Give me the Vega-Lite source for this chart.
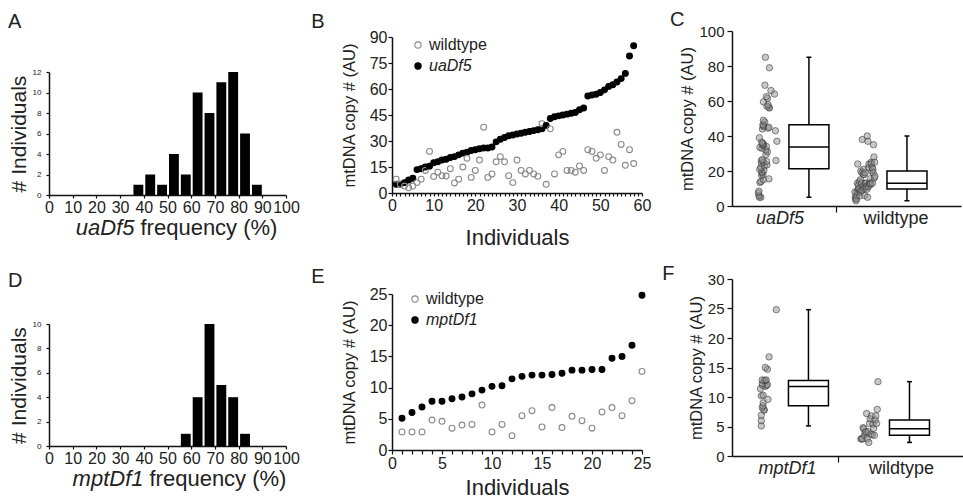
{
  "$schema": "https://vega.github.io/schema/vega-lite/v6.json",
  "padding": {"left": 8, "top": 10, "right": 0, "bottom": 0},
  "datasets": {
    "histA": [
      {"start": 35, "end": 40, "count": 1}, {"start": 40, "end": 45, "count": 2}, {"start": 45, "end": 50, "count": 1},
      {"start": 50, "end": 55, "count": 4}, {"start": 55, "end": 60, "count": 2}, {"start": 60, "end": 65, "count": 10},
      {"start": 65, "end": 70, "count": 8}, {"start": 70, "end": 75, "count": 11}, {"start": 75, "end": 80, "count": 12},
      {"start": 80, "end": 85, "count": 6}, {"start": 85, "end": 90, "count": 1}
    ],
    "histD": [
      {"start": 55, "end": 60, "count": 1}, {"start": 60, "end": 65, "count": 4}, {"start": 65, "end": 70, "count": 10},
      {"start": 70, "end": 75, "count": 5}, {"start": 75, "end": 80, "count": 4}, {"start": 80, "end": 85, "count": 1}
    ],
    "top": [
      {"ind": 1, "uaDf5": 5, "wildtype": 8}, {"ind": 2, "uaDf5": 5, "wildtype": 5}, {"ind": 3, "uaDf5": 6, "wildtype": 4},
      {"ind": 4, "uaDf5": 7.5, "wildtype": 3}, {"ind": 5, "uaDf5": 8.5, "wildtype": 4}, {"ind": 6, "uaDf5": 13.5, "wildtype": 6},
      {"ind": 7, "uaDf5": 14, "wildtype": 8}, {"ind": 8, "uaDf5": 15, "wildtype": 13}, {"ind": 9, "uaDf5": 15.5, "wildtype": 24},
      {"ind": 10, "uaDf5": 17.5, "wildtype": 9.5}, {"ind": 11, "uaDf5": 18, "wildtype": 12}, {"ind": 12, "uaDf5": 19, "wildtype": 10},
      {"ind": 13, "uaDf5": 19.5, "wildtype": 9.8}, {"ind": 14, "uaDf5": 20.5, "wildtype": 14}, {"ind": 15, "uaDf5": 21, "wildtype": 5.8},
      {"ind": 16, "uaDf5": 22, "wildtype": 8}, {"ind": 17, "uaDf5": 23, "wildtype": 15}, {"ind": 18, "uaDf5": 23.5, "wildtype": 20},
      {"ind": 19, "uaDf5": 24.5, "wildtype": 9}, {"ind": 20, "uaDf5": 25, "wildtype": 13}, {"ind": 21, "uaDf5": 25.5, "wildtype": 19},
      {"ind": 22, "uaDf5": 26, "wildtype": 38}, {"ind": 23, "uaDf5": 26, "wildtype": 9}, {"ind": 24, "uaDf5": 26.5, "wildtype": 11},
      {"ind": 25, "uaDf5": 29.5, "wildtype": 18}, {"ind": 26, "uaDf5": 31, "wildtype": 21}, {"ind": 27, "uaDf5": 32, "wildtype": 18},
      {"ind": 28, "uaDf5": 33, "wildtype": 10}, {"ind": 29, "uaDf5": 33.5, "wildtype": 6}, {"ind": 30, "uaDf5": 34, "wildtype": 19},
      {"ind": 31, "uaDf5": 34.5, "wildtype": 13}, {"ind": 32, "uaDf5": 35, "wildtype": 11}, {"ind": 33, "uaDf5": 35.5, "wildtype": 13},
      {"ind": 34, "uaDf5": 36, "wildtype": 11}, {"ind": 35, "uaDf5": 36.5, "wildtype": 9.6}, {"ind": 36, "uaDf5": 37, "wildtype": 40},
      {"ind": 37, "uaDf5": 39, "wildtype": 5}, {"ind": 38, "uaDf5": 43, "wildtype": 37}, {"ind": 39, "uaDf5": 44, "wildtype": 11},
      {"ind": 40, "uaDf5": 44.5, "wildtype": 22}, {"ind": 41, "uaDf5": 45, "wildtype": 24}, {"ind": 42, "uaDf5": 45.5, "wildtype": 13},
      {"ind": 43, "uaDf5": 46, "wildtype": 13}, {"ind": 44, "uaDf5": 46.5, "wildtype": 12}, {"ind": 45, "uaDf5": 48, "wildtype": 15.6},
      {"ind": 46, "uaDf5": 49, "wildtype": 13}, {"ind": 47, "uaDf5": 56, "wildtype": 25}, {"ind": 48, "uaDf5": 56.5, "wildtype": 24},
      {"ind": 49, "uaDf5": 57, "wildtype": 20}, {"ind": 50, "uaDf5": 58, "wildtype": 22}, {"ind": 51, "uaDf5": 59.5, "wildtype": 13},
      {"ind": 52, "uaDf5": 61.5, "wildtype": 21}, {"ind": 53, "uaDf5": 62.5, "wildtype": 19}, {"ind": 54, "uaDf5": 64, "wildtype": 35},
      {"ind": 55, "uaDf5": 66, "wildtype": 28}, {"ind": 56, "uaDf5": 69, "wildtype": 16}, {"ind": 57, "uaDf5": 79, "wildtype": 25},
      {"ind": 58, "uaDf5": 85, "wildtype": 17}
    ],
    "bot": [
      {"ind": 1, "mptDf1": 5.1, "wildtype": 2.9}, {"ind": 2, "mptDf1": 6, "wildtype": 2.9}, {"ind": 3, "mptDf1": 6.9, "wildtype": 2.9},
      {"ind": 4, "mptDf1": 7.8, "wildtype": 4.8}, {"ind": 5, "mptDf1": 7.8, "wildtype": 4.6}, {"ind": 6, "mptDf1": 8.2, "wildtype": 3.5},
      {"ind": 7, "mptDf1": 8.5, "wildtype": 4.0}, {"ind": 8, "mptDf1": 9.0, "wildtype": 4.1}, {"ind": 9, "mptDf1": 9.6, "wildtype": 7.2},
      {"ind": 10, "mptDf1": 10.2, "wildtype": 2.9}, {"ind": 11, "mptDf1": 10.3, "wildtype": 4.1}, {"ind": 12, "mptDf1": 11.4, "wildtype": 2.3},
      {"ind": 13, "mptDf1": 11.8, "wildtype": 5.5}, {"ind": 14, "mptDf1": 12.0, "wildtype": 6.3}, {"ind": 15, "mptDf1": 12.0, "wildtype": 3.7},
      {"ind": 16, "mptDf1": 12.1, "wildtype": 6.8}, {"ind": 17, "mptDf1": 12.3, "wildtype": 3.6}, {"ind": 18, "mptDf1": 12.8, "wildtype": 5.4},
      {"ind": 19, "mptDf1": 12.8, "wildtype": 4.7}, {"ind": 20, "mptDf1": 12.9, "wildtype": 3.5}, {"ind": 21, "mptDf1": 12.9, "wildtype": 6.1},
      {"ind": 22, "mptDf1": 14.7, "wildtype": 6.8}, {"ind": 23, "mptDf1": 15.0, "wildtype": 5.5}, {"ind": 24, "mptDf1": 16.8, "wildtype": 7.9},
      {"ind": 25, "mptDf1": 24.8, "wildtype": 12.6}
    ]
  },
  "hconcat": [
    {
      "vconcat": [
        {
          "title": {"text": "A", "offset": -10},
          "width": 237, "height": 173,
          "data": {"name": "histA"},
          "layer": [
            {
              "mark": {"type": "bar", "color": "black", "binSpacing": 2},
              "encoding": {
                "x": {"field": "start", "type": "quantitative", "bin": {"binned": true, "step": 5}, "scale": {"domain": [0, 100]},
                      "axis": {"values": [0, 10, 20, 30, 40, 50, 60, 70, 80, 90, 100], "title": "frequency (%)", "labelFontSize": 16, "titleFontSize": 22, "tickSize": 3, "labelPadding": 1,
                               "titleX": 91, "titleY": 39, "titleAlign": "left", "titleBaseline": "alphabetic"}},
                "x2": {"field": "end"},
                "y": {"field": "count", "type": "quantitative", "scale": {"domain": [0, 12], "range": [173, 50]},
                      "axis": {"values": [0, 2, 4, 6, 8, 10, 12], "title": "# Individuals", "labelFontSize": 8, "titleFontSize": 21, "tickSize": 3, "labelPadding": 5, "titlePadding": 3}}
              }
            },
            {
              "mark": {"type": "bar", "color": "black", "opacity": 0, "binSpacing": 2},
              "encoding": {
                "x": {"field": "start", "type": "quantitative", "bin": {"binned": true, "step": 5}, "scale": {"domain": [0, 100]},
                      "axis": {"orient": "bottom", "domain": false, "ticks": false, "labels": false, "title": "uaDf5", "titleFontStyle": "italic", "titleFontSize": 22,
                               "titleX": 85, "titleY": 39, "titleAlign": "right", "titleBaseline": "alphabetic"}},
                "x2": {"field": "end"},
                "y": {"field": "count", "type": "quantitative", "scale": {"domain": [0, 12], "range": [173, 50]},
                      "axis": {"values": [0, 2, 4, 6, 8, 10, 12], "title": "# Individuals", "labelFontSize": 8, "titleFontSize": 21, "tickSize": 3, "labelPadding": 5, "titlePadding": 3}}
              }
            }
          ],
          "resolve": {"axis": {"x": "independent"}}
        },
        {
          "title": {"text": "D", "offset": -20},
          "width": 237, "height": 175,
          "data": {"name": "histD"},
          "layer": [
            {
              "mark": {"type": "bar", "color": "black", "binSpacing": 2},
              "encoding": {
                "x": {"field": "start", "type": "quantitative", "bin": {"binned": true, "step": 5}, "scale": {"domain": [0, 100]},
                      "axis": {"values": [0, 10, 20, 30, 40, 50, 60, 70, 80, 90, 100], "title": "frequency (%)", "labelFontSize": 16, "titleFontSize": 22, "tickSize": 3, "labelPadding": 1,
                               "titleX": 100, "titleY": 39, "titleAlign": "left", "titleBaseline": "alphabetic"}},
                "x2": {"field": "end"},
                "y": {"field": "count", "type": "quantitative", "scale": {"domain": [0, 10], "range": [175, 53]},
                      "axis": {"values": [0, 2, 4, 6, 8, 10], "title": "# Individuals", "labelFontSize": 8, "titleFontSize": 21, "tickSize": 3, "labelPadding": 5, "titlePadding": 3}}
              }
            },
            {
              "mark": {"type": "bar", "color": "black", "opacity": 0, "binSpacing": 2},
              "encoding": {
                "x": {"field": "start", "type": "quantitative", "bin": {"binned": true, "step": 5}, "scale": {"domain": [0, 100]},
                      "axis": {"orient": "bottom", "domain": false, "ticks": false, "labels": false, "title": "mptDf1", "titleFontStyle": "italic", "titleFontSize": 22,
                               "titleX": 94, "titleY": 39, "titleAlign": "right", "titleBaseline": "alphabetic"}},
                "x2": {"field": "end"},
                "y": {"field": "count", "type": "quantitative", "scale": {"domain": [0, 10], "range": [175, 53]},
                      "axis": {"values": [0, 2, 4, 6, 8, 10], "title": "# Individuals", "labelFontSize": 8, "titleFontSize": 21, "tickSize": 3, "labelPadding": 5, "titlePadding": 3}}
              }
            }
          ],
          "resolve": {"axis": {"x": "independent"}}
        }
      ],
      "spacing": 33,
      "resolve": {"scale": {"x": "independent", "y": "independent"}}
    },
    {
      "vconcat": [
        {
          "title": {"text": "B", "offset": -10, "dx": -30},
          "width": 250, "height": 171,
          "data": {"name": "top"},
          "transform": [{"fold": ["uaDf5", "wildtype"], "as": ["genotype", "value"]}],
          "mark": {"type": "point", "shape": "circle", "filled": true, "size": 34, "strokeWidth": 1.1, "opacity": 1},
          "encoding": {
            "x": {"field": "ind", "type": "quantitative", "scale": {"domain": [0, 60]},
                  "axis": {"values": [0,1,2,3,4,5,6,7,8,9,10,11,12,13,14,15,16,17,18,19,20,21,22,23,24,25,26,27,28,29,30,31,32,33,34,35,36,37,38,39,40,41,42,43,44,45,46,47,48,49,50,51,52,53,54,55,56,57,58,59,60],
                           "labelExpr": "datum.value % 10 == 0 ? datum.label : ''", "title": "Individuals", "labelFontSize": 16, "titleFontSize": 22, "tickSize": 3, "labelPadding": 1, "titlePadding": 14}},
            "y": {"field": "value", "type": "quantitative", "scale": {"domain": [0, 90], "range": [171, 15]},
                  "axis": {"values": [0, 15, 30, 45, 60, 75, 90], "title": "mtDNA copy # (AU)", "labelFontSize": 16, "titleFontSize": 16.5, "tickSize": 4, "labelPadding": 1, "titlePadding": 12}},
            "fill": {"field": "genotype", "type": "nominal", "scale": {"domain": ["wildtype", "uaDf5"], "range": ["transparent", "black"]},
                     "legend": {"title": null, "orient": "none", "legendX": 18, "legendY": 15, "labelFontSize": 16, "symbolSize": 40, "symbolStrokeWidth": 1.1, "rowPadding": 5, "padding": 0, "labelOffset": 3,
                                "labelFontStyle": {"expr": "datum.value == 'wildtype' ? 'normal' : 'italic'"}}},
            "stroke": {"field": "genotype", "type": "nominal", "scale": {"domain": ["wildtype", "uaDf5"], "range": ["#8a8a8a", "black"]},
                     "legend": {"title": null, "orient": "none", "legendX": 18, "legendY": 15, "labelFontSize": 16, "symbolSize": 40, "symbolStrokeWidth": 1.1, "rowPadding": 5, "padding": 0, "labelOffset": 3,
                                "labelFontStyle": {"expr": "datum.value == 'wildtype' ? 'normal' : 'italic'"}}}
          }
        },
        {
          "title": {"text": "E", "offset": -18, "dx": -30},
          "width": 250, "height": 181,
          "data": {"name": "bot"},
          "transform": [{"fold": ["mptDf1", "wildtype"], "as": ["genotype", "value"]}],
          "mark": {"type": "point", "shape": "circle", "filled": true, "size": 34, "strokeWidth": 1.1, "opacity": 1},
          "encoding": {
            "x": {"field": "ind", "type": "quantitative", "scale": {"domain": [0, 25]},
                  "axis": {"values": [0,1,2,3,4,5,6,7,8,9,10,11,12,13,14,15,16,17,18,19,20,21,22,23,24,25],
                           "labelExpr": "datum.value % 5 == 0 ? datum.label : ''", "title": "Individuals", "labelFontSize": 16, "titleFontSize": 22, "tickSize": 4, "labelPadding": 1, "titlePadding": 6}},
            "y": {"field": "value", "type": "quantitative", "scale": {"domain": [0, 25], "range": [181, 25]},
                  "axis": {"values": [0, 5, 10, 15, 20, 25], "title": "mtDNA copy # (AU)", "labelFontSize": 16, "titleFontSize": 16.5, "tickSize": 4, "labelPadding": 1, "titlePadding": 12}},
            "fill": {"field": "genotype", "type": "nominal", "scale": {"domain": ["wildtype", "mptDf1"], "range": ["transparent", "black"]},
                     "legend": {"title": null, "orient": "none", "legendX": 15, "legendY": 22, "labelFontSize": 16, "symbolSize": 40, "symbolStrokeWidth": 1.1, "rowPadding": 5, "padding": 0, "labelOffset": 3,
                                "labelFontStyle": {"expr": "datum.value == 'wildtype' ? 'normal' : 'italic'"}}},
            "stroke": {"field": "genotype", "type": "nominal", "scale": {"domain": ["wildtype", "mptDf1"], "range": ["#8a8a8a", "black"]},
                     "legend": {"title": null, "orient": "none", "legendX": 15, "legendY": 22, "labelFontSize": 16, "symbolSize": 40, "symbolStrokeWidth": 1.1, "rowPadding": 5, "padding": 0, "labelOffset": 3,
                                "labelFontStyle": {"expr": "datum.value == 'wildtype' ? 'normal' : 'italic'"}}}
          }
        }
      ],
      "spacing": 19,
      "resolve": {"scale": {"x": "independent", "y": "independent", "fill": "independent", "stroke": "independent"}, "legend": {"fill": "independent", "stroke": "independent"}}
    },
    {
      "vconcat": [
        {
          "title": {"text": "C", "offset": -8, "dx": -10},
          "width": 229, "height": 184,
          "data": {"name": "top"},
          "transform": [{"fold": ["uaDf5", "wildtype"], "as": ["genotype", "value"]}],
          "encoding": {
            "x": {"field": "genotype", "type": "nominal", "sort": null,
                  "scale": {"domain": ["uaDf5", "wildtype"], "paddingInner": 0, "paddingOuter": 0.168, "align": 0.21},
                  "axis": {"title": null, "bandPosition": 0, "tickSize": 6, "labelFontSize": 18, "labelPadding": -3, "labelAngle": 0,
                           "labelOffset": {"condition": {"test": "datum.value == 'uaDf5'", "value": -8}, "value": 10},
                           "tickOpacity": {"condition": {"test": "datum.value == 'uaDf5'", "value": 0}, "value": 1},
                           "labelFontStyle": {"condition": {"test": "datum.value == 'uaDf5'", "value": "italic"}, "value": "normal"}}}
          },
          "layer": [
            {
              "transform": [{"filter": "datum.genotype == 'uaDf5'"}],
              "mark": {"type": "point", "shape": "circle", "filled": true, "size": 42, "fill": "#8f8f8f", "fillOpacity": 0.5, "stroke": "#333333", "strokeOpacity": 0.55, "strokeWidth": 1},
              "encoding": {
                "y": {"field": "value", "type": "quantitative", "scale": {"domain": [0, 100], "range": [184, 9]},
                      "axis": {"values": [0, 20, 40, 60, 80, 100], "title": "mtDNA copy # (AU)", "labelFontSize": 15, "titleFontSize": 16.5, "tickSize": 5, "labelPadding": 3, "titlePadding": 3, "labelOverlap": false}},
                "xOffset": {"field": "wildtype", "type": "quantitative", "scale": {"domain": [0, 40], "range": [18, 38]}}
              }
            },
            {
              "transform": [{"filter": "datum.genotype == 'wildtype'"}],
              "mark": {"type": "point", "shape": "circle", "filled": true, "size": 42, "fill": "#8f8f8f", "fillOpacity": 0.5, "stroke": "#333333", "strokeOpacity": 0.55, "strokeWidth": 1},
              "encoding": {
                "y": {"field": "value", "type": "quantitative", "scale": {"domain": [0, 100], "range": [184, 9]},
                      "axis": {"values": [0, 20, 40, 60, 80, 100], "title": "mtDNA copy # (AU)", "labelFontSize": 15, "titleFontSize": 16.5, "tickSize": 5, "labelPadding": 3, "titlePadding": 3, "labelOverlap": false}},
                "xOffset": {"field": "ind", "type": "quantitative", "scale": {"domain": [1, 58], "range": [18, 38]}}
              }
            },
            {
              "transform": [{"aggregate": [
                {"op": "min", "field": "value", "as": "lo"}, {"op": "q1", "field": "value", "as": "q1"},
                {"op": "median", "field": "value", "as": "med"}, {"op": "q3", "field": "value", "as": "q3"},
                {"op": "max", "field": "value", "as": "hi"}], "groupby": ["genotype"]}],
              "layer": [
                {"mark": {"type": "rule", "xOffset": 21, "strokeWidth": 1.5, "color": "black"},
                 "encoding": {"y": {"field": "lo", "type": "quantitative", "scale": {"domain": [0, 100], "range": [184, 9]},
                                    "axis": {"values": [0, 20, 40, 60, 80, 100], "title": "mtDNA copy # (AU)", "labelFontSize": 15, "titleFontSize": 16.5, "tickSize": 5, "labelPadding": 3, "titlePadding": 3, "labelOverlap": false}},
                              "y2": {"field": "hi"}}},
                {"mark": {"type": "bar", "xOffset": 21, "width": 40, "fill": "white", "stroke": "black", "strokeWidth": 1.5},
                 "encoding": {"y": {"field": "q1", "type": "quantitative", "scale": {"domain": [0, 100], "range": [184, 9]},
                                    "axis": {"values": [0, 20, 40, 60, 80, 100], "title": "mtDNA copy # (AU)", "labelFontSize": 15, "titleFontSize": 16.5, "tickSize": 5, "labelPadding": 3, "titlePadding": 3, "labelOverlap": false}},
                              "y2": {"field": "q3"}}},
                {"mark": {"type": "tick", "xOffset": 21, "size": 40, "thickness": 1.5, "color": "black", "opacity": 1},
                 "encoding": {"y": {"field": "med", "type": "quantitative", "scale": {"domain": [0, 100], "range": [184, 9]},
                                    "axis": {"values": [0, 20, 40, 60, 80, 100], "title": "mtDNA copy # (AU)", "labelFontSize": 15, "titleFontSize": 16.5, "tickSize": 5, "labelPadding": 3, "titlePadding": 3, "labelOverlap": false}}}},
                {"mark": {"type": "tick", "xOffset": 21, "size": 5, "thickness": 1.5, "color": "black", "opacity": 1},
                 "encoding": {"y": {"field": "lo", "type": "quantitative", "scale": {"domain": [0, 100], "range": [184, 9]},
                                    "axis": {"values": [0, 20, 40, 60, 80, 100], "title": "mtDNA copy # (AU)", "labelFontSize": 15, "titleFontSize": 16.5, "tickSize": 5, "labelPadding": 3, "titlePadding": 3, "labelOverlap": false}}}},
                {"mark": {"type": "tick", "xOffset": 21, "size": 5, "thickness": 1.5, "color": "black", "opacity": 1},
                 "encoding": {"y": {"field": "hi", "type": "quantitative", "scale": {"domain": [0, 100], "range": [184, 9]},
                                    "axis": {"values": [0, 20, 40, 60, 80, 100], "title": "mtDNA copy # (AU)", "labelFontSize": 15, "titleFontSize": 16.5, "tickSize": 5, "labelPadding": 3, "titlePadding": 3, "labelOverlap": false}}}}
              ]
            }
          ],
          "resolve": {"scale": {"xOffset": "independent"}}
        },
        {
          "title": {"text": "F", "offset": -16, "dx": -26},
          "width": 235, "height": 188,
          "data": {"name": "bot"},
          "transform": [{"fold": ["mptDf1", "wildtype"], "as": ["genotype", "value"]}],
          "encoding": {
            "x": {"field": "genotype", "type": "nominal", "sort": null,
                  "scale": {"domain": ["mptDf1", "wildtype"], "paddingInner": 0, "paddingOuter": 0.163, "align": 0.18},
                  "axis": {"title": null, "bandPosition": 0, "tickSize": 6, "labelFontSize": 18, "labelPadding": -3, "labelAngle": 0,
                           "labelOffset": {"condition": {"test": "datum.value == 'mptDf1'", "value": -1}, "value": 12},
                           "tickOpacity": {"condition": {"test": "datum.value == 'mptDf1'", "value": 0}, "value": 1},
                           "labelFontStyle": {"condition": {"test": "datum.value == 'mptDf1'", "value": "italic"}, "value": "normal"}}}
          },
          "layer": [
            {
              "transform": [{"filter": "datum.genotype == 'mptDf1'"}],
              "mark": {"type": "point", "shape": "circle", "filled": true, "size": 42, "fill": "#8f8f8f", "fillOpacity": 0.5, "stroke": "#333333", "strokeOpacity": 0.55, "strokeWidth": 1},
              "encoding": {
                "y": {"field": "value", "type": "quantitative", "scale": {"domain": [0, 30], "range": [188, 11]},
                      "axis": {"values": [0, 5, 10, 15, 20, 25, 30], "title": "mtDNA copy # (AU)", "labelFontSize": 15, "titleFontSize": 16.5, "tickSize": 5, "labelPadding": 3, "titlePadding": 3, "labelOverlap": false}},
                "xOffset": {"field": "wildtype", "type": "quantitative", "scale": {"domain": [2, 13], "range": [22, 39]}}
              }
            },
            {
              "transform": [{"filter": "datum.genotype == 'wildtype'"}],
              "mark": {"type": "point", "shape": "circle", "filled": true, "size": 42, "fill": "#8f8f8f", "fillOpacity": 0.5, "stroke": "#333333", "strokeOpacity": 0.55, "strokeWidth": 1},
              "encoding": {
                "y": {"field": "value", "type": "quantitative", "scale": {"domain": [0, 30], "range": [188, 11]},
                      "axis": {"values": [0, 5, 10, 15, 20, 25, 30], "title": "mtDNA copy # (AU)", "labelFontSize": 15, "titleFontSize": 16.5, "tickSize": 5, "labelPadding": 3, "titlePadding": 3, "labelOverlap": false}},
                "xOffset": {"field": "ind", "type": "quantitative", "scale": {"domain": [1, 25], "range": [22, 39]}}
              }
            },
            {
              "transform": [{"aggregate": [
                {"op": "min", "field": "value", "as": "lo"}, {"op": "q1", "field": "value", "as": "q1"},
                {"op": "median", "field": "value", "as": "med"}, {"op": "q3", "field": "value", "as": "q3"},
                {"op": "max", "field": "value", "as": "hi"}], "groupby": ["genotype"]}],
              "layer": [
                {"mark": {"type": "rule", "xOffset": 20, "strokeWidth": 1.5, "color": "black"},
                 "encoding": {"y": {"field": "lo", "type": "quantitative", "scale": {"domain": [0, 30], "range": [188, 11]},
                                    "axis": {"values": [0, 5, 10, 15, 20, 25, 30], "title": "mtDNA copy # (AU)", "labelFontSize": 15, "titleFontSize": 16.5, "tickSize": 5, "labelPadding": 3, "titlePadding": 3, "labelOverlap": false}},
                              "y2": {"field": "hi"}}},
                {"mark": {"type": "bar", "xOffset": 20, "width": 40, "fill": "white", "stroke": "black", "strokeWidth": 1.5},
                 "encoding": {"y": {"field": "q1", "type": "quantitative", "scale": {"domain": [0, 30], "range": [188, 11]},
                                    "axis": {"values": [0, 5, 10, 15, 20, 25, 30], "title": "mtDNA copy # (AU)", "labelFontSize": 15, "titleFontSize": 16.5, "tickSize": 5, "labelPadding": 3, "titlePadding": 3, "labelOverlap": false}},
                              "y2": {"field": "q3"}}},
                {"mark": {"type": "tick", "xOffset": 20, "size": 40, "thickness": 1.5, "color": "black", "opacity": 1},
                 "encoding": {"y": {"field": "med", "type": "quantitative", "scale": {"domain": [0, 30], "range": [188, 11]},
                                    "axis": {"values": [0, 5, 10, 15, 20, 25, 30], "title": "mtDNA copy # (AU)", "labelFontSize": 15, "titleFontSize": 16.5, "tickSize": 5, "labelPadding": 3, "titlePadding": 3, "labelOverlap": false}}}},
                {"mark": {"type": "tick", "xOffset": 20, "size": 5, "thickness": 1.5, "color": "black", "opacity": 1},
                 "encoding": {"y": {"field": "lo", "type": "quantitative", "scale": {"domain": [0, 30], "range": [188, 11]},
                                    "axis": {"values": [0, 5, 10, 15, 20, 25, 30], "title": "mtDNA copy # (AU)", "labelFontSize": 15, "titleFontSize": 16.5, "tickSize": 5, "labelPadding": 3, "titlePadding": 3, "labelOverlap": false}}}},
                {"mark": {"type": "tick", "xOffset": 20, "size": 5, "thickness": 1.5, "color": "black", "opacity": 1},
                 "encoding": {"y": {"field": "hi", "type": "quantitative", "scale": {"domain": [0, 30], "range": [188, 11]},
                                    "axis": {"values": [0, 5, 10, 15, 20, 25, 30], "title": "mtDNA copy # (AU)", "labelFontSize": 15, "titleFontSize": 16.5, "tickSize": 5, "labelPadding": 3, "titlePadding": 3, "labelOverlap": false}}}}
              ]
            }
          ],
          "resolve": {"scale": {"xOffset": "independent"}}
        }
      ],
      "spacing": 37,
      "resolve": {"scale": {"x": "independent", "y": "independent"}}
    }
  ],
  "spacing": 11,
  "resolve": {"scale": {"x": "independent", "y": "independent", "fill": "independent", "stroke": "independent"}, "legend": {"fill": "independent", "stroke": "independent"}},
  "config": {
    "font": "Liberation Sans",
    "view": {"stroke": null},
    "axis": {"grid": false, "domainColor": "#111111", "domainWidth": 1.5, "tickColor": "#111111", "tickWidth": 1.2, "labelColor": "#222222", "titleColor": "#222222", "titleFontWeight": "normal", "labelFlush": false, "labelOverlap": false},
    "title": {"fontSize": 20, "fontWeight": "normal", "anchor": "start", "color": "#222222"},
    "legend": {"labelColor": "#222222"}
  }
}
